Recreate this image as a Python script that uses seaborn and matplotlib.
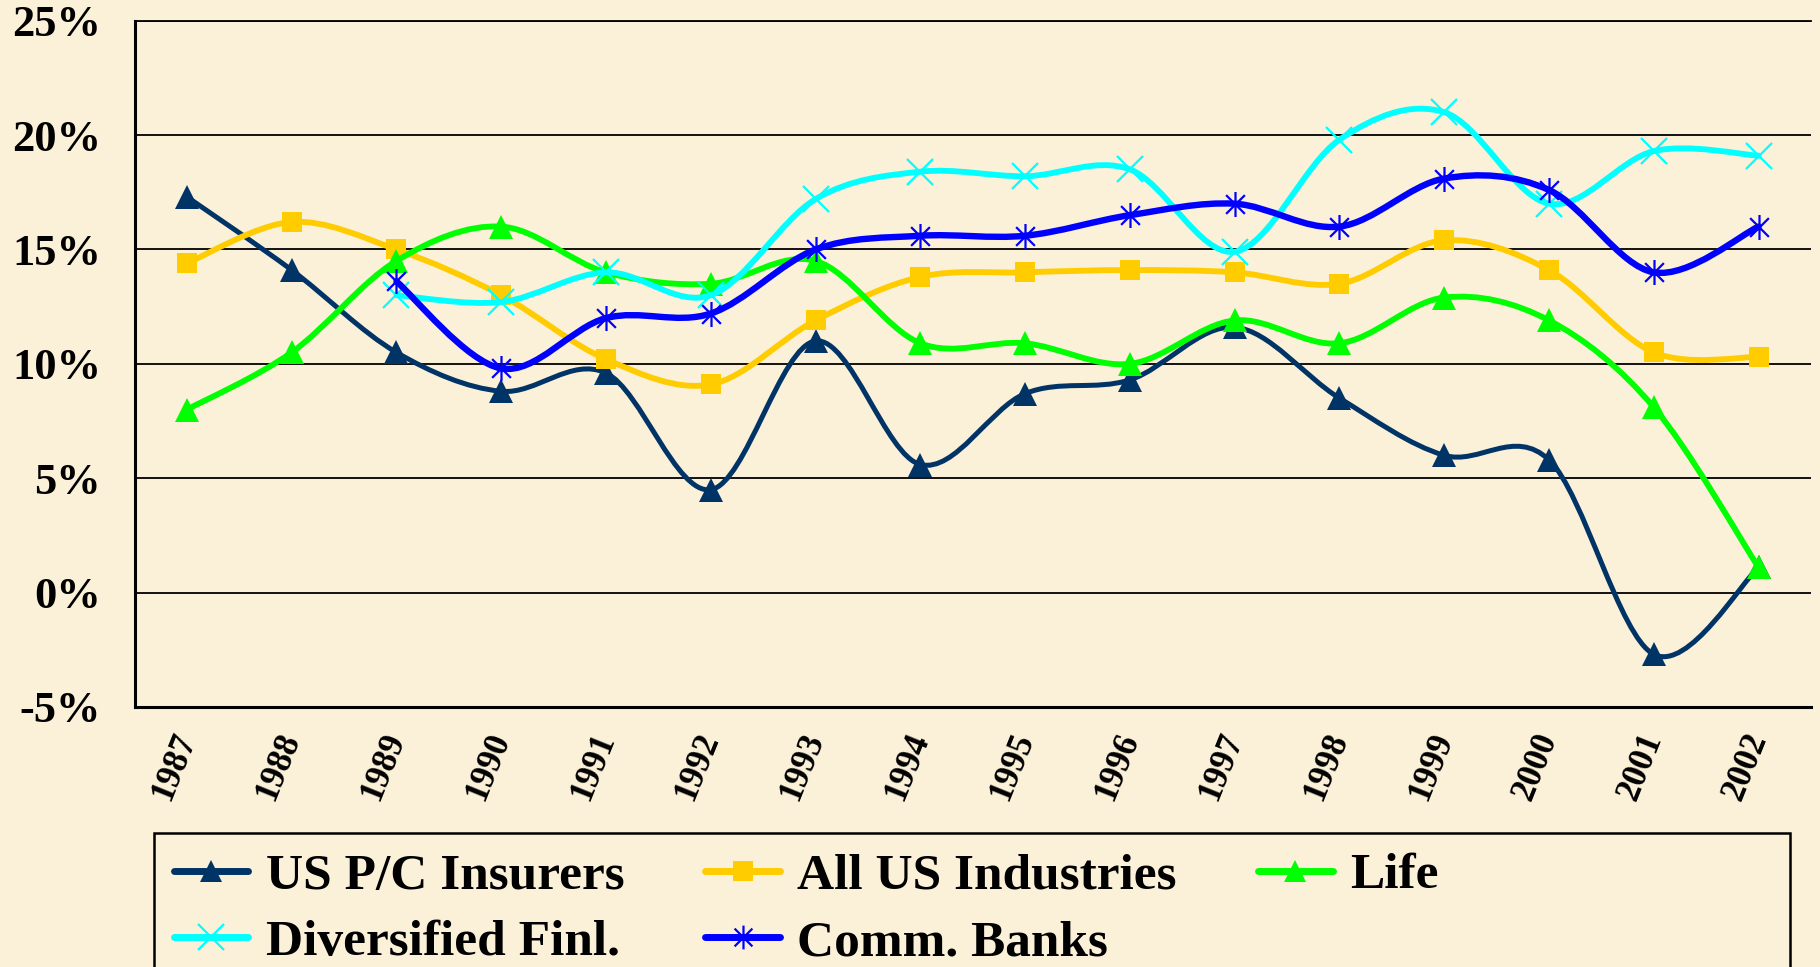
import numpy as np
import pandas as pd
import matplotlib
matplotlib.use("Agg")
import matplotlib.pyplot as plt
import seaborn as sns
from matplotlib.path import Path
from matplotlib.patches import PathPatch, Rectangle
from matplotlib.lines import Line2D

# Return on equity by sector, 1987-2002 (%)
years = ['1987', '1988', '1989', '1990', '1991', '1992', '1993', '1994',
         '1995', '1996', '1997', '1998', '1999', '2000', '2001', '2002']

pc_insurers = [17.3, 14.1, 10.5, 8.8, 9.6, 4.5, 11.0, 5.6,
               8.7, 9.3, 11.6, 8.5, 6.0, 5.8, -2.7, 1.1]
all_us = [14.4, 16.2, 15.0, 13.0, 10.2, 9.1, 11.9, 13.8,
          14.0, 14.1, 14.0, 13.5, 15.4, 14.1, 10.5, 10.3]
life = [8.0, 10.5, 14.5, 16.0, 14.0, 13.5, 14.5, 10.9,
        10.9, 10.0, 11.9, 10.9, 12.9, 11.9, 8.1, 1.1]
div_finl = [np.nan, np.nan, 13.0, 12.7, 14.0, 13.0, 17.2, 18.4,
            18.2, 18.5, 14.9, 19.8, 21.0, 17.0, 19.3, 19.1]
comm_banks = [np.nan, np.nan, 13.6, 9.8, 12.0, 12.2, 15.0, 15.6,
              15.6, 16.5, 17.0, 16.0, 18.1, 17.6, 14.0, 16.0]

series_names = ['US P/C Insurers', 'All US Industries', 'Life',
                'Diversified Finl.', 'Comm. Banks']

df = pd.DataFrame({'x': np.arange(len(years)),
                   'US P/C Insurers': pc_insurers,
                   'All US Industries': all_us,
                   'Life': life,
                   'Diversified Finl.': div_finl,
                   'Comm. Banks': comm_banks})

# asterisk marker like excel's star: x plus a vertical bar
star = Path([(0, -1), (0, 1), (-0.75, -0.75), (0.75, 0.75), (-0.75, 0.75), (0.75, -0.75)],
            [Path.MOVETO, Path.LINETO] * 3)

styles = {
    'US P/C Insurers':   dict(color='#003366', lw=3.6, marker='^', ms=17, mew=0),
    'All US Industries': dict(color='#FFCC00', lw=4.2, marker='s', ms=15, mew=0),
    'Life':              dict(color='#00FF00', lw=4.2, marker='^', ms=17, mew=0),
    'Diversified Finl.': dict(color='#00FFFF', lw=4.2, marker='x', ms=19, mew=1.6),
    'Comm. Banks':       dict(color='#0000FF', lw=4.6, marker=star, ms=18, mew=1.6),
}

BG = '#FBF0D8'

sns.set_style("white")
plt.rcParams['font.family'] = ['Liberation Serif', 'DejaVu Serif']
plt.rcParams['font.weight'] = 'bold'
plt.rcParams['text.color'] = 'black'
plt.rcParams['xtick.color'] = 'black'
plt.rcParams['ytick.color'] = 'black'


def smooth_path(x, y):
    # excel-like smoothed line: cubic bezier through every point
    pts = np.column_stack([x, y])
    n = len(pts)
    verts = [pts[0]]
    codes = [Path.MOVETO]
    for i in range(n - 1):
        p0 = pts[i - 1] if i > 0 else pts[i]
        p1 = pts[i]
        p2 = pts[i + 1]
        p3 = pts[i + 2] if i + 2 < n else pts[i + 1]
        verts += [p1 + (p2 - p0) / 6.0, p2 - (p3 - p1) / 6.0, p2]
        codes += [Path.CURVE4] * 3
    return Path(verts, codes)


fig = plt.figure(figsize=(18.2, 9.67), dpi=100, facecolor=BG)
ax = fig.add_axes([134.5 / 1820, 1 - 707 / 967, (1811 - 134.5) / 1820, (707 - 20.7) / 967])
ax.set_facecolor(BG)

for k, name in enumerate(series_names):
    st = styles[name]
    sub = df[['x', name]].dropna()
    path = smooth_path(sub['x'].values, sub[name].values)
    ax.add_patch(PathPatch(path, facecolor='none', edgecolor=st['color'], lw=st['lw'],
                           capstyle='round', joinstyle='round', zorder=3 + k))
    sns.lineplot(data=sub, x='x', y=name, ax=ax, linestyle='', marker=st['marker'],
                 markersize=st['ms'], color=st['color'], markerfacecolor=st['color'],
                 markeredgecolor=st['color'], markeredgewidth=st['mew'],
                 legend=False, zorder=3 + k)

ax.set_xlim(-0.5, len(years) - 0.5)
ax.set_ylim(-5, 25)
ax.set_xlabel('')
ax.set_ylabel('')

ax.set_yticks(np.arange(-5, 26, 5))
ax.set_yticklabels([f'{v}%' for v in range(-5, 26, 5)], fontsize=32, fontweight='bold')
ax.tick_params(axis='y', direction='in', length=8, width=2, pad=24)

ax.set_xticks(np.arange(-0.5, len(years), 1.0))
ax.set_xticklabels([])
ax.set_xticks(np.arange(len(years)), minor=True)
ax.set_xticklabels(years, minor=True, rotation=68, fontsize=25, fontweight='bold',
                   ha='right', va='center', rotation_mode='anchor')
ax.tick_params(axis='x', which='major', direction='in', length=8, width=1.5)
ax.tick_params(axis='x', which='minor', length=0, pad=20)

ax.yaxis.grid(True, color='black', lw=1.3)
ax.xaxis.grid(False)
ax.set_axisbelow(True)
for side in ['left', 'bottom']:
    ax.spines[side].set_color('black')
    ax.spines[side].set_linewidth(2.2)
ax.spines['top'].set_color('black')
ax.spines['top'].set_linewidth(1.3)
ax.spines['right'].set_visible(False)

# legend
handles = {}
for name in series_names:
    st = styles[name]
    handles[name] = Line2D([], [], color=st['color'], lw=5, marker=st['marker'],
                           markersize=st['ms'] * 0.95, markerfacecolor=st['color'],
                           markeredgecolor=st['color'], markeredgewidth=st['mew'],
                           solid_capstyle='round')
order = ['US P/C Insurers', 'Diversified Finl.', 'All US Industries', 'Comm. Banks', 'Life']
fig.legend([handles[n] for n in order], order, ncol=3, loc='upper left',
           bbox_to_anchor=(154 / 1820, 1 - 833 / 967), frameon=False,
           prop={'size': 37, 'weight': 'bold'}, borderpad=0.38, labelspacing=0.38,
           handlelength=1.45, handletextpad=0.34, columnspacing=1.58, borderaxespad=0)
fig.add_artist(Rectangle((154 / 1820, -0.05), (1790 - 154) / 1820, (967 - 833) / 967 + 0.05,
                         transform=fig.transFigure, facecolor='none', edgecolor='black',
                         lw=1.8))

fig.savefig('out.png', dpi=100, facecolor=BG)
